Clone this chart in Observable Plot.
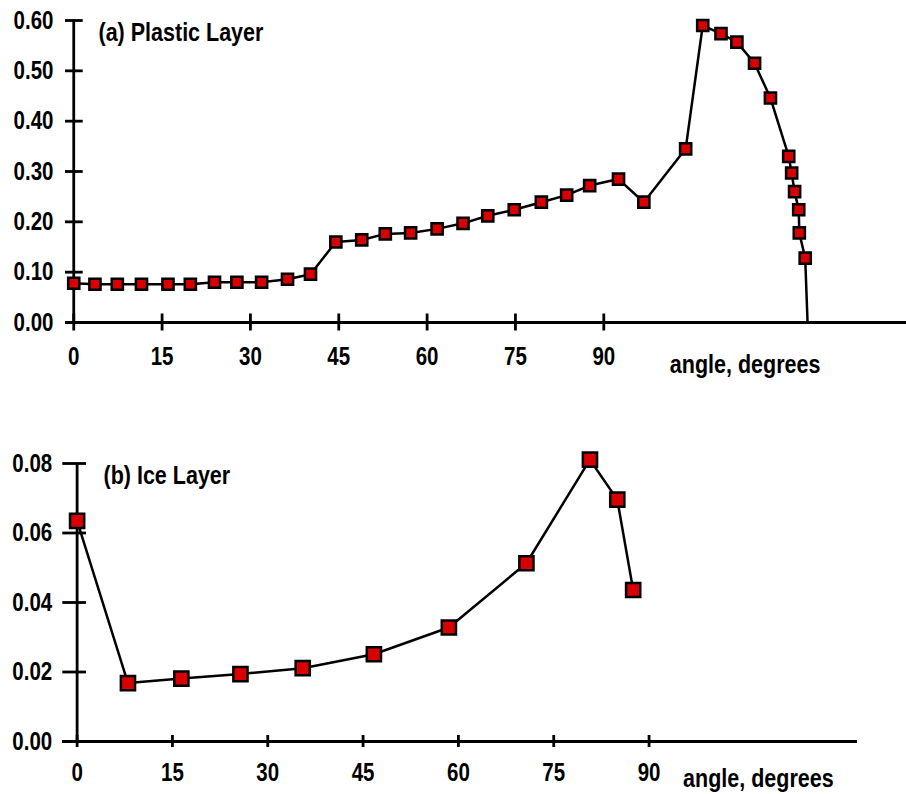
<!DOCTYPE html>
<html>
<head>
<meta charset="utf-8">
<script src="https://cdn.jsdelivr.net/npm/d3@7"></script>
<script src="https://cdn.jsdelivr.net/npm/@observablehq/plot@0.6"></script>
<style>
  html, body { margin: 0; padding: 0; background: #fff; }
  #chart svg { display: block; overflow: visible; }
</style>
</head>
<body>
<div id="chart"></div>
<script>
// ---- Data: (a) Plastic layer ----
const plasticAngle = [0, 3.6, 7.4, 11.5, 16.0, 19.8, 23.9, 27.7, 31.9, 36.3, 40.2, 44.5, 48.9, 52.9, 57.2, 61.7, 66.1, 70.3, 74.8, 79.4, 83.7, 87.6, 92.5, 96.8, 103.9, 106.8, 109.9, 112.6, 115.6, 118.3, 121.4, 121.9, 122.4, 123.1, 123.2, 124.2];
const plasticValue = [0.078, 0.076, 0.076, 0.076, 0.076, 0.076, 0.080, 0.080, 0.080, 0.086, 0.096, 0.160, 0.164, 0.176, 0.178, 0.186, 0.197, 0.212, 0.224, 0.239, 0.253, 0.272, 0.285, 0.239, 0.345, 0.590, 0.574, 0.557, 0.515, 0.446, 0.330, 0.297, 0.260, 0.224, 0.178, 0.128];
// line drops to the axis after the last marker
const plasticEndAngle = 124.6;
const plasticEndValue = 0;

// ---- Data: (b) Ice layer ----
const iceAngle = [0, 8.0, 16.4, 25.7, 35.5, 46.7, 58.5, 70.7, 80.7, 85.0, 87.5];
const iceValue = [0.0635, 0.0168, 0.0181, 0.0194, 0.0211, 0.0251, 0.0328, 0.0513, 0.0811, 0.0696, 0.0436];

// ---- Ticks & labels ----
const xTicks = [0, 15, 30, 45, 60, 75, 90];
const yTicksA = [0, 0.1, 0.2, 0.3, 0.4, 0.5, 0.6];
const yTicksB = [0, 0.02, 0.04, 0.06, 0.08];
const titleA = "(a) Plastic Layer";
const titleB = "(b) Ice Layer";
const xLabel = "angle, degrees";

const plasticData = plasticAngle.map((a, i) => ({angle: a, value: plasticValue[i]}));
const plasticLine = plasticData.concat([{angle: plasticEndAngle, value: plasticEndValue}]);
const iceData = iceAngle.map((a, i) => ({angle: a, value: iceValue[i]}));

const FONT = "'Liberation Sans', Arial, sans-serif";
const RED = "#d80000";

const chartA = Plot.plot({
  width: 906, height: 400,
  marginLeft: 65, marginRight: 0, marginTop: 20, marginBottom: 78,
  style: {fontFamily: FONT, fontWeight: "bold", color: "#000", background: "#fff", overflow: "visible"},
  x: {domain: [-1.4, 141.4]},
  y: {domain: [0, 0.6]},
  marks: [
    Plot.ruleY([0], {strokeWidth: 2.8}),
    Plot.ruleX([0], {strokeWidth: 2.8}),
    Plot.axisY({ticks: yTicksA, tickFormat: d => d.toFixed(2), tickSize: 17.7, dx: 17.7, tickPadding: 12, strokeWidth: 2.8, fontSize: 25, label: null}),
    Plot.axisX({ticks: xTicks, tickFormat: d => String(d), tickSize: 17, dy: -8.5, tickPadding: 16, strokeWidth: 2.8, fontSize: 25, label: null}),
    Plot.line(plasticLine, {x: "angle", y: "value", stroke: "#000", strokeWidth: 2.5}),
    Plot.dot(plasticData, {x: "angle", y: "value", symbol: "square", r: 6.3, fill: RED, stroke: "#000", strokeWidth: 2.5}),
    Plot.text([titleA], {frameAnchor: "top-left", dx: 33, dy: 12, lineAnchor: "middle", textAnchor: "start", fontSize: 25, fontWeight: "bold"}),
    Plot.text([xLabel], {x: 114, y: 0, dy: 42, textAnchor: "middle", lineAnchor: "middle", fontSize: 25, fontWeight: "bold"})
  ]
});

const chartB = Plot.plot({
  width: 906, height: 394,
  marginLeft: 62, marginRight: 49, marginTop: 63, marginBottom: 53,
  style: {fontFamily: FONT, fontWeight: "bold", color: "#000", background: "#fff", overflow: "visible"},
  x: {domain: [-2.3, 122.8]},
  y: {domain: [0, 0.08]},
  marks: [
    Plot.ruleY([0], {strokeWidth: 2.8}),
    Plot.ruleX([0], {strokeWidth: 2.8}),
    Plot.axisY({ticks: yTicksB, tickFormat: d => d.toFixed(2), tickSize: 23.7, dx: 24, tickPadding: 10.6, strokeWidth: 2.8, fontSize: 25, label: null}),
    Plot.axisX({ticks: xTicks, tickFormat: d => String(d), tickSize: 12, dy: -6, tickPadding: 16, strokeWidth: 2.8, fontSize: 25, label: null}),
    Plot.line(iceData, {x: "angle", y: "value", stroke: "#000", strokeWidth: 2.5}),
    Plot.dot(iceData, {x: "angle", y: "value", symbol: "square", r: 8, fill: RED, stroke: "#000", strokeWidth: 2.5}),
    Plot.text([titleB], {frameAnchor: "top-left", dx: 41, dy: 12, lineAnchor: "middle", textAnchor: "start", fontSize: 25, fontWeight: "bold"}),
    Plot.text([xLabel], {x: 107.2, y: 0, dy: 37, textAnchor: "middle", lineAnchor: "middle", fontSize: 25, fontWeight: "bold"})
  ]
});

const root = document.getElementById("chart");
root.appendChild(chartA);
root.appendChild(chartB);

// The reference uses a narrow bold face: condense the installed bold sans horizontally.
for (const svg of [chartA, chartB]) {
  svg.querySelectorAll("text").forEach(t => {
    const isAnnotation = t.closest('g[aria-label="text"]') !== null;
    const factor = isAnnotation ? 0.86 : 0.82;
    const len = t.getComputedTextLength();
    if (len > 0) {
      t.setAttribute("textLength", (len * factor).toFixed(1));
      t.setAttribute("lengthAdjust", "spacingAndGlyphs");
    }
  });
}
</script>
</body>
</html>
